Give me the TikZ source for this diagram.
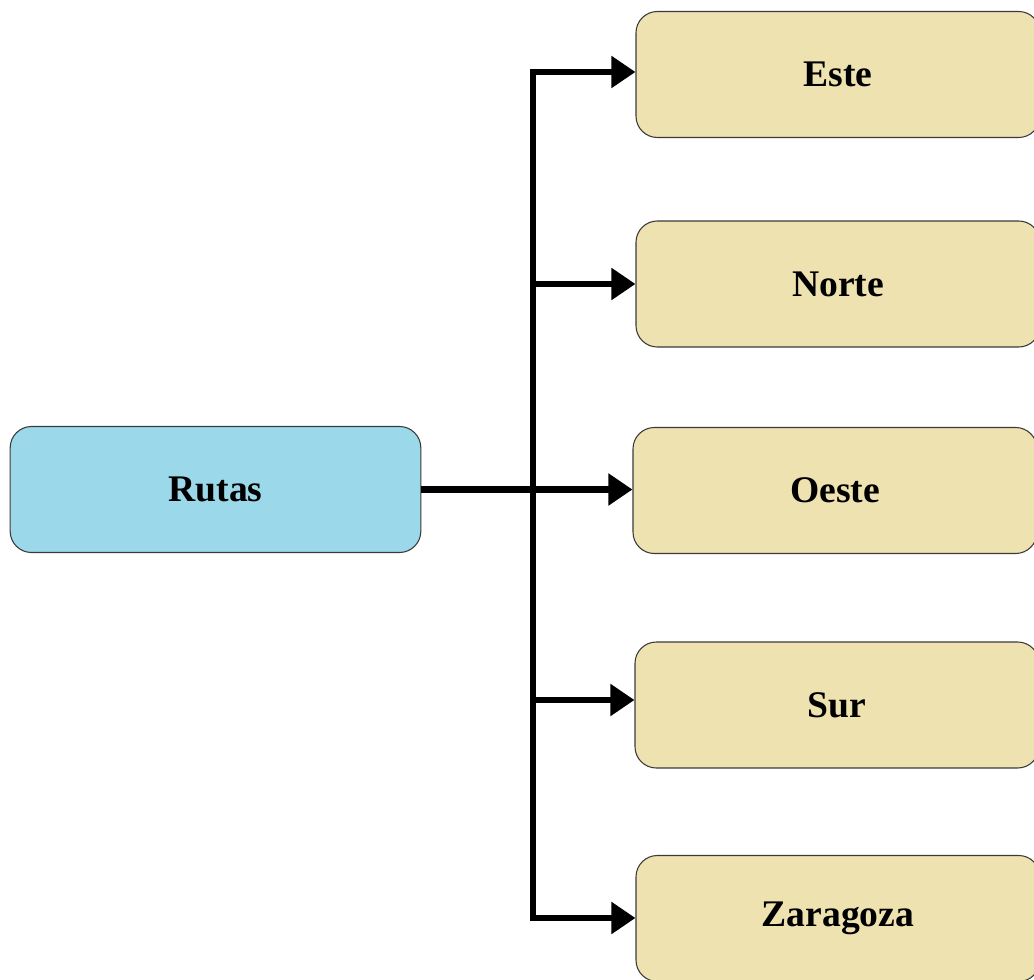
\documentclass[tikz,border=0pt]{standalone}
\usepackage{fontspec}
\setmainfont{Liberation Serif}
\usetikzlibrary{arrows.meta}
\definecolor{rootfill}{HTML}{9BD9EA}
\definecolor{leaffill}{HTML}{EEE2B0}
\definecolor{edgegray}{HTML}{3A3A3A}
\tikzset{
  box/.style={draw=edgegray, line width=0.8pt, rounded corners=16pt,
    minimum height=94.5pt, inner sep=0pt,
    font=\fontsize{28.2}{31}\selectfont\bfseries},
  rootbox/.style={box, fill=rootfill, minimum width=308pt},
  leafbox/.style={box, fill=leaffill, minimum width=303pt},
  trunk/.style={line width=5.2pt, line join=miter},
  link/.style={line width=5.2pt, -{Triangle[length=18pt,width=23pt]}},
}
\begin{document}
\begin{tikzpicture}[x=0.75pt,y=-0.75pt]
  \useasboundingbox (0,0) rectangle (1034,980);
  \clip (0,0) rectangle (1034,980);
  % root and destinations
  \node[rootbox] (rutas) at (215.5,489.5) {Rutas};
  \node[leafbox] (este) at (838,74.5) {Este};
  \node[leafbox] (norte) at (838,284) {Norte};
  \node[leafbox] (oeste) at (835,490.5) {Oeste};
  \node[leafbox] (sur) at (837,705) {Sur};
  \node[leafbox] (zaragoza) at (838,918.5) {Zaragoza};
  % junctions on the vertical bus
  \coordinate (jE) at (533,72);
  \coordinate (jN) at (533,284);
  \coordinate (jS) at (533,700);
  \coordinate (jZ) at (533,918);
  \coordinate (cE) at (580,72);
  \coordinate (cZ) at (580,918);
  % vertical bus with its two bent ends
  \draw[trunk] (cE) -- (jE) -- (jZ) -- (cZ);
  % connectors
  \draw[link] (jE) -- (este.west |- jE);
  \draw[link] (jN) -- (norte.west |- jN);
  \draw[link] (rutas.east) -- (oeste.west |- rutas.east);
  \draw[link] (jS) -- (sur.west |- jS);
  \draw[link] (jZ) -- (zaragoza.west |- jZ);
\end{tikzpicture}
\end{document}
